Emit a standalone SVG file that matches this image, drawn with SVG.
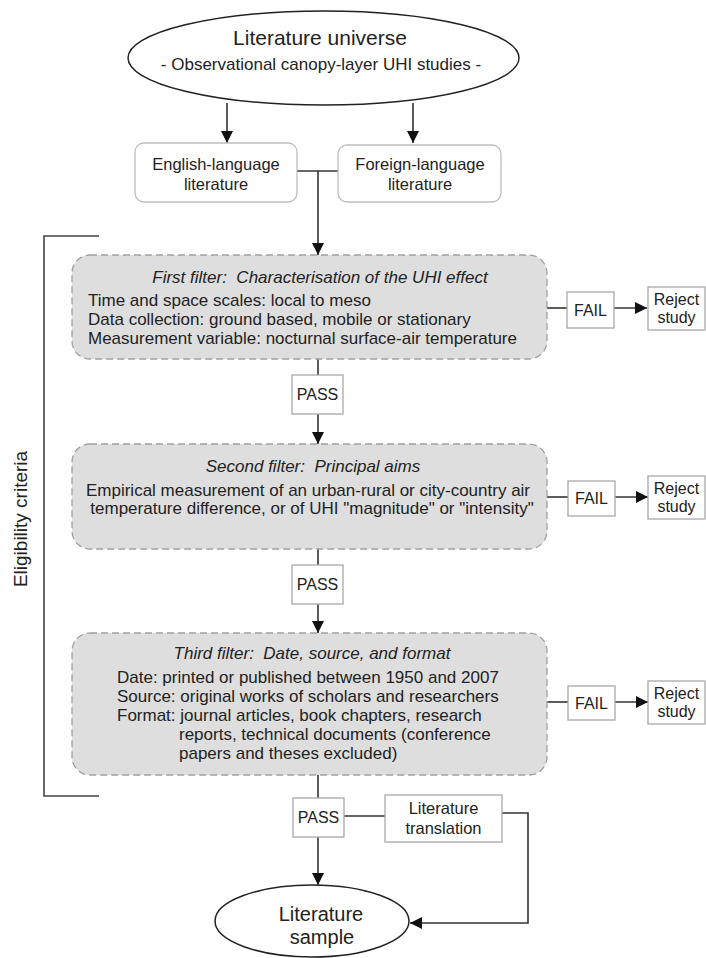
<svg xmlns="http://www.w3.org/2000/svg" width="706" height="958" viewBox="0 0 706 958">
<style>
text{font-family:"Liberation Sans",Arial,sans-serif;fill:#222}
.big{font-size:21px}
.sub{font-size:17px}
.lbl{font-size:16.5px}
.sm{font-size:16px}
.body{font-size:17px}
.hd{font-size:17px;font-style:italic}
.mid{text-anchor:middle}
.filter{fill:#dedede;stroke:#a0a0a0;stroke-width:1.3;stroke-dasharray:7 4}
.rbox{fill:#fff;stroke:#bdbdbd;stroke-width:1.3}
.box{fill:#fff;stroke:#a8a8a8;stroke-width:1.3}
.ell{fill:#fff;stroke:#222;stroke-width:1.5}
.c{fill:none;stroke:#333;stroke-width:1.6}
.ca{fill:none;stroke:#333;stroke-width:1.6;marker-end:url(#ah)}
</style>
<defs>
<marker id="ah" viewBox="0 0 10 10" refX="10" refY="5" markerWidth="7.5" markerHeight="7.5" markerUnits="strokeWidth" orient="auto">
<path d="M0,0 L10,5 L0,10 z" fill="#111"/>
</marker>
</defs>

<g id="connectors">
<path class="ca" d="M227,103 V143"/>
<path class="ca" d="M413,103 V143"/>
<path class="c" d="M297,171 H338"/>
<path class="ca" d="M318,171 V255"/>
<path class="c" d="M547,308 H567"/>
<path class="ca" d="M614,308 H647"/>
<path class="c" d="M318,359 V375"/>
<path class="ca" d="M318,414 V444"/>
<path class="c" d="M547,497 H568"/>
<path class="ca" d="M615,497 H648"/>
<path class="c" d="M318,549 V565"/>
<path class="ca" d="M318,604 V633"/>
<path class="c" d="M547,702 H568"/>
<path class="ca" d="M615,702 H648"/>
<path class="c" d="M318,775 V798"/>
<path class="c" d="M344,816 H385"/>
<path class="ca" d="M318,837 V885"/>
<path class="ca" d="M502,813 H528 V923 H410"/>
</g>

<g id="bracket">
<path d="M99,236 H44 V796 H99" fill="none" stroke="#444" stroke-width="1.6"/>
<text class="mid" font-size="19" transform="translate(27,519) rotate(-90)">Eligibility criteria</text>
</g>

<g id="universe">
<ellipse class="ell" cx="323.5" cy="58" rx="195.5" ry="47"/>
<text class="big mid" x="320" y="45">Literature universe</text>
<text class="sub mid" x="321" y="70">- Observational canopy-layer UHI studies -</text>
</g>

<g id="english">
<rect class="rbox" x="135" y="143" width="162" height="59" rx="9"/>
<text class="lbl mid" x="216" y="170">English-language</text>
<text class="lbl mid" x="216" y="190">literature</text>
</g>

<g id="foreign">
<rect class="rbox" x="338" y="145" width="163" height="57" rx="9"/>
<text class="lbl mid" x="420" y="170">Foreign-language</text>
<text class="lbl mid" x="420" y="190">literature</text>
</g>

<g id="filter1">
<rect class="filter" x="72" y="255" width="475" height="104" rx="18"/>
<text class="hd mid" x="320" y="283" xml:space="preserve">First filter:  Characterisation of the UHI effect</text>
<text class="body" x="88" y="306">Time and space scales: local to meso</text>
<text class="body" x="88" y="325">Data collection: ground based, mobile or stationary</text>
<text class="body" x="88" y="344">Measurement variable: nocturnal surface-air temperature</text>
</g>

<g id="fail1">
<rect class="box" x="567" y="292" width="47" height="36"/>
<text class="sm mid" x="590.5" y="316">FAIL</text>
</g>
<g id="reject1">
<rect class="box" x="648" y="287" width="57" height="43"/>
<text class="sm mid" x="676.5" y="305">Reject</text>
<text class="sm mid" x="676.5" y="323">study</text>
</g>

<g id="pass1">
<rect class="box" x="292" y="375" width="51" height="39"/>
<text class="sm mid" x="317.5" y="400">PASS</text>
</g>

<g id="filter2">
<rect class="filter" x="72" y="444" width="475" height="105" rx="18"/>
<text class="hd mid" x="313" y="472" xml:space="preserve">Second filter:  Principal aims</text>
<text class="body mid" x="308" y="496">Empirical measurement of an urban-rural or city-country air</text>
<text class="body mid" x="312" y="514">temperature difference, or of UHI "magnitude" or "intensity"</text>
</g>

<g id="fail2">
<rect class="box" x="568" y="481" width="47" height="35"/>
<text class="sm mid" x="591.5" y="504">FAIL</text>
</g>
<g id="reject2">
<rect class="box" x="648" y="476" width="57" height="43"/>
<text class="sm mid" x="676.5" y="494">Reject</text>
<text class="sm mid" x="676.5" y="512">study</text>
</g>

<g id="pass2">
<rect class="box" x="292" y="565" width="51" height="39"/>
<text class="sm mid" x="317.5" y="590">PASS</text>
</g>

<g id="filter3">
<rect class="filter" x="72" y="633" width="475" height="142" rx="18"/>
<text class="hd mid" x="312" y="659" xml:space="preserve">Third filter:  Date, source, and format</text>
<text class="body" x="117" y="683">Date: printed or published between 1950 and 2007</text>
<text class="body" x="117" y="702">Source: original works of scholars and researchers</text>
<text class="body" x="117" y="721">Format: journal articles, book chapters, research</text>
<text class="body" x="179" y="740">reports, technical documents (conference</text>
<text class="body" x="179" y="759">papers and theses excluded)</text>
</g>

<g id="fail3">
<rect class="box" x="568" y="686" width="47" height="34"/>
<text class="sm mid" x="591.5" y="709">FAIL</text>
</g>
<g id="reject3">
<rect class="box" x="648" y="681" width="57" height="43"/>
<text class="sm mid" x="676.5" y="699">Reject</text>
<text class="sm mid" x="676.5" y="717">study</text>
</g>

<g id="pass3">
<rect class="box" x="293" y="798" width="51" height="39"/>
<text class="sm mid" x="318.5" y="823">PASS</text>
</g>

<g id="translation">
<rect class="box" x="385" y="795" width="117" height="47"/>
<text class="lbl mid" x="443.5" y="814">Literature</text>
<text class="lbl mid" x="443.5" y="834">translation</text>
</g>

<g id="sample">
<ellipse class="ell" cx="312" cy="921" rx="97" ry="36"/>
<text class="mid" font-size="20" x="321" y="921">Literature</text>
<text class="mid" font-size="20" x="322" y="944">sample</text>
</g>
</svg>
